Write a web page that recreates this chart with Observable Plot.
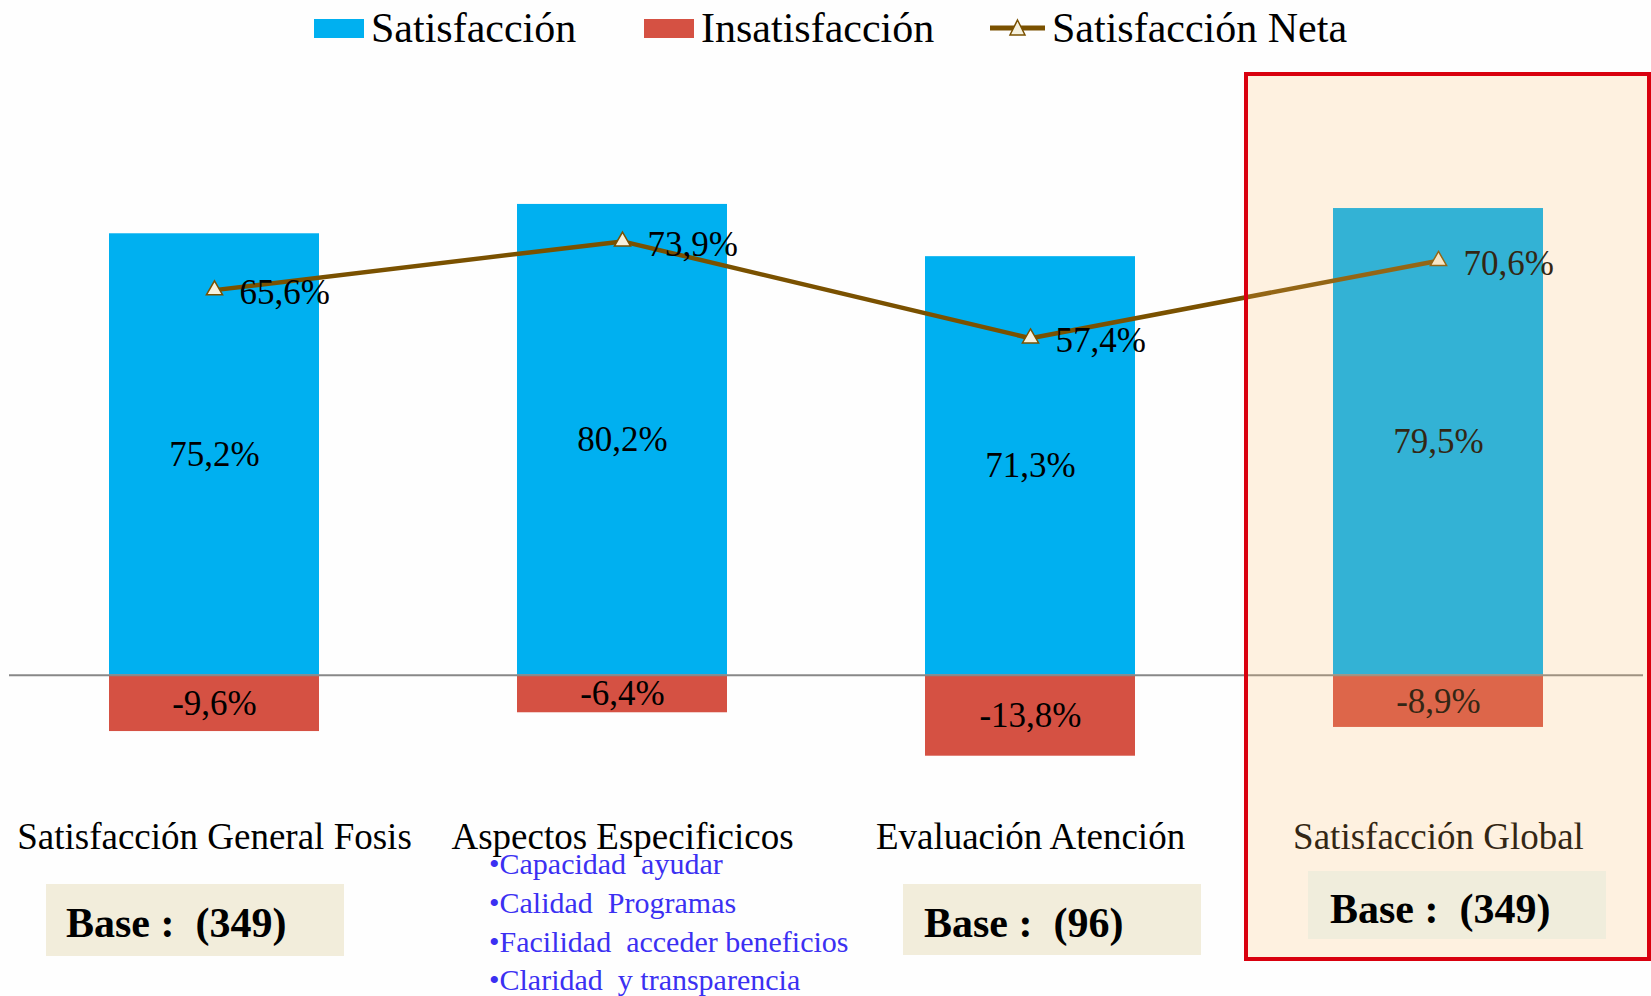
<!DOCTYPE html>
<html><head><meta charset="utf-8">
<script src="https://cdn.jsdelivr.net/npm/d3@7"></script>
<script src="https://cdn.jsdelivr.net/npm/@observablehq/plot@0.6"></script>
<style>
body{margin:0;background:#fefefe;overflow:hidden;font-family:"Liberation Serif","Times New Roman",serif;}
#legend{position:relative;height:60px;width:1651px;}
.item{position:absolute;top:0;height:56px;display:flex;align-items:center;font-size:42px;color:#000;white-space:pre;}
.item svg{margin-right:7px;}
#chart svg{display:block;}
</style></head><body>
<div id="legend"></div><div id="chart"></div>
<script>
const categories = ["Satisfacción General Fosis","Aspectos Especificicos","Evaluación Atención","Satisfacción Global"];
const satisfaccion = [75.2, 80.2, 71.3, 79.5];
const insatisfaccion = [-9.6, -6.4, -13.8, -8.9];
const neta = [65.6, 73.9, 57.4, 70.6];
const seriesNames = ["Satisfacción","Insatisfacción","Satisfacción Neta"];
const seriesColors = ["#00B0F0","#D55143","#7A5100"];
const baseLabels = ["Base :  (349)", null, "Base :  (96)", "Base :  (349)"];
const aspectosItems = ["•Capacidad  ayudar","•Calidad  Programas","•Facilidad  acceder beneficios","•Claridad  y transparencia"];

const rows = categories.map((c,i)=>({cat:c, sat:satisfaccion[i], ins:insatisfaccion[i], net:neta[i]}));
const fmt = v => v.toFixed(1).replace(".", ",") + "%";
const serif = '"Liberation Serif","Times New Roman",serif';

// Legend
const legend = d3.select("#legend");
const legendX = [314, 644, 990];
seriesNames.forEach((name,i)=>{
  const it = legend.append("div").attr("class","item").style("left", legendX[i]+"px");
  if (i < 2) {
    const s = it.append("svg").attr("width",50).attr("height",19);
    s.append("rect").attr("width",50).attr("height",19).attr("fill",seriesColors[i]);
  } else {
    const s = it.append("svg").attr("width",55).attr("height",20);
    s.append("line").attr("x1",0).attr("x2",55).attr("y1",10).attr("y2",10).attr("stroke",seriesColors[i]).attr("stroke-width",5).attr("stroke-linecap","round");
    s.append("path").attr("d","M27.5,2 L35,17 L20,17 Z").attr("fill","#F6F1DE").attr("stroke",seriesColors[i]).attr("stroke-width",1.5);
  }
  it.append("span").text(name);
});

const zeroY = 614.7, k = 5.87;
const chart = Plot.plot({
  width: 1651, height: 936,
  marginLeft: 9, marginRight: 8, marginTop: 0, marginBottom: 159,
  style: {background: "transparent", fontFamily: serif, color: "#000"},
  x: {domain: categories, paddingInner: 0.486, paddingOuter: 0.243, axis: null},
  y: {domain: [-30, 90], range: [zeroY + 30*k, zeroY - 90*k], axis: null},
  marks: [
    Plot.barY(rows, {x:"cat", y:"sat", fill: seriesColors[0]}),
    Plot.barY(rows, {x:"cat", y:"ins", fill: seriesColors[1]}),
    Plot.ruleY([0], {stroke:"#888", strokeWidth:2}),
    Plot.text(rows, {x:"cat", y: d=>d.sat/2, text: d=>fmt(d.sat), fontSize:35, fill:"#000"}),
    Plot.text(rows, {x:"cat", y: d=>d.ins/2, text: d=>fmt(d.ins), fontSize:35, fill:"#000"}),
    Plot.line(rows, {x:"cat", y:"net", stroke: seriesColors[2], strokeWidth: 4.5}),
    Plot.dot(rows, {x:"cat", y:"net", symbol:"triangle", r:6, fill:"#F6F1DE", stroke: seriesColors[2], strokeWidth:1.5}),
    Plot.text(rows, {x:"cat", y:"net", text: d=>fmt(d.net), textAnchor:"start", dx:25, dy:3, fontSize:35, fill:"#000"}),
    Plot.axisX({anchor:"bottom", tickSize:0, tickPadding:0, fontSize:37, lineAnchor:"middle", fill:"#000", label:null})
  ]
});
document.getElementById("chart").appendChild(chart);

const svg = d3.select(chart);
// highlight overlay for the global category
svg.append("rect").attr("x",1246).attr("y",14).attr("width",403).attr("height",885)
  .attr("fill","rgb(254,191,105)").attr("fill-opacity",0.2)
  .attr("stroke","#D9000E").attr("stroke-width",4);

// base boxes
const boxes = [
  {x:46, y:824, w:298, h:72, tx:66, ty:877, fill:"#F2EDDB"},
  null,
  {x:903, y:824, w:298, h:71, tx:924, ty:877, fill:"#F2EDDB"},
  {x:1308, y:811, w:298, h:68, tx:1330, ty:863, fill:"#F0EDDC"}
];
baseLabels.forEach((t,i)=>{
  const b = boxes[i]; if (!t || !b) return;
  svg.append("rect").attr("x",b.x).attr("y",b.y).attr("width",b.w).attr("height",b.h).attr("fill",b.fill);
  svg.append("text").attr("x",b.tx).attr("y",b.ty).attr("text-anchor","start").attr("font-family",serif).attr("font-size",42)
    .attr("font-weight","bold").attr("fill","#000").style("white-space","pre").text(t);
});

// aspectos list
aspectosItems.forEach((t,i)=>{
  svg.append("text").attr("x",489).attr("y",814 + i*38.8).attr("text-anchor","start").attr("font-family",serif).attr("font-size",30)
    .attr("fill","#3B30F2").style("white-space","pre").text(t);
});
</script>
</body></html>
